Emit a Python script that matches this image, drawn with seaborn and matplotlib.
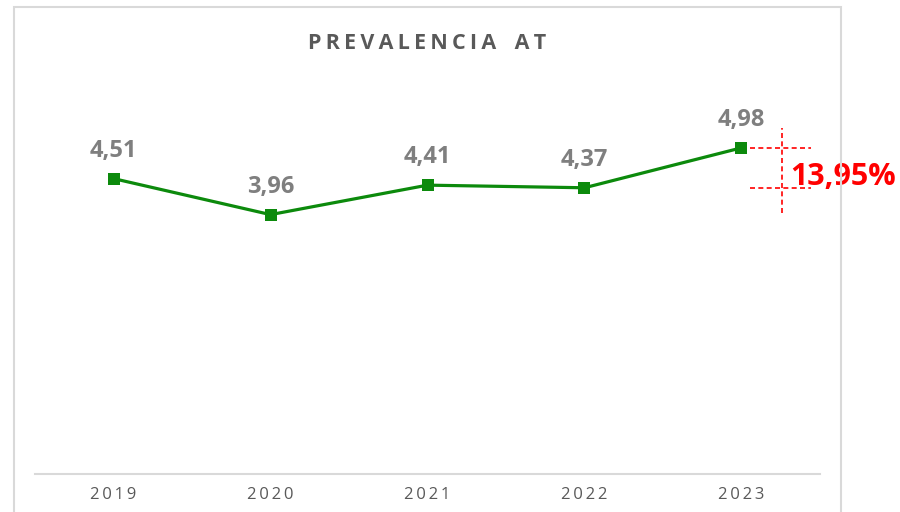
import numpy as np
import pandas as pd
import seaborn as sns
import matplotlib.pyplot as plt
from matplotlib.patches import Rectangle

# Data
years = ['2019', '2020', '2021', '2022', '2023']
prevalence = [4.51, 3.96, 4.41, 4.37, 4.98]
change_label = '13,95%'

df = pd.DataFrame({'pos': np.arange(len(years)), 'value': prevalence})

sns.set_style('white')
plt.rcParams['font.family'] = ['Open Sans', 'DejaVu Sans']

green = '#0c8a0c'
fig = plt.figure(figsize=(9, 5.12), dpi=100)
ax = fig.add_axes([0.0389, 0.0742, 0.8722, 0.7676])

sns.lineplot(data=df, x='pos', y='value', ax=ax, color=green, linewidth=2.3,
             marker='s', markersize=8.5, markeredgecolor=green, markeredgewidth=0)

# value labels
for x, v in zip(df['pos'], df['value']):
    ax.annotate(f'{v:.2f}'.replace('.', ','), (x, v), xytext=(0, 20),
                textcoords='offset points', ha='center', va='center',
                fontsize=17, fontweight='bold', color='#7f7f7f')

ax.set_xlim(-0.5, len(years) - 0.5)
ax.set_ylim(0, 6)
ax.set_xticks(df['pos'])
ax.set_xticklabels(['\u2009'.join(y) for y in years], fontsize=12, color='#595959')
ax.set_yticks([])
ax.set_xlabel('')
ax.set_ylabel('')
ax.tick_params(axis='x', length=0, pad=9)
for s in ['top', 'right', 'left']:
    ax.spines[s].set_visible(False)
ax.spines['bottom'].set_color('#d9d9d9')
ax.spines['bottom'].set_linewidth(1.5)

# change annotation between 2022 and 2023
last, prev = prevalence[-1], prevalence[-2]
red = '#ff0000'
ax.hlines([last, prev], 4.057, 4.44, colors=red, linestyles=(0, (3, 2)), linewidth=1.2)
ax.vlines(4.255, prev - 0.38, last + 0.31, colors=red, linestyles=(0, (3, 2)), linewidth=1.2)
ax.text(4.31, 4.53, change_label, ha='left', va='center',
        fontsize=22, fontweight='bold', color=red, clip_on=False)

# title with letter spacing
fig.text(0.474, 0.916, '\u2009'.join('PREVALENCIA') + '\u2009\u2009 \u2009' + '\u2009'.join('AT'),
         ha='center', va='center', fontsize=15.5, fontweight='bold', color='#595959')

# chart frame
fig.patches.append(Rectangle((13.5 / 900, -0.05), (841 - 13.5) / 900, 1.05 - 6.5 / 512,
                             transform=fig.transFigure, fill=False,
                             edgecolor='#d9d9d9', linewidth=1.5))

fig.savefig('out.png', dpi=100)
